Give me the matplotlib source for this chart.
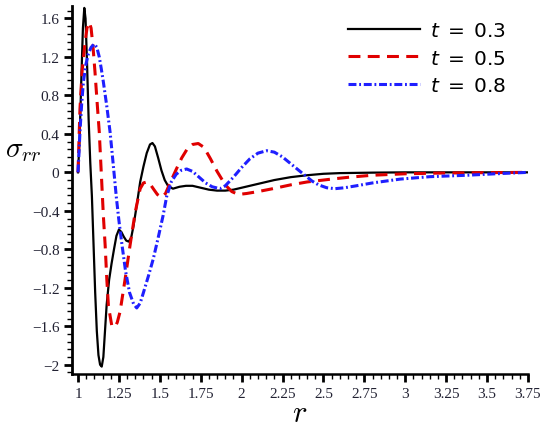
import numpy as np
import matplotlib
matplotlib.use("Agg")
from matplotlib import pyplot as plt
from matplotlib.ticker import MultipleLocator, FuncFormatter

plt.rcParams["font.family"] = ["Liberation Serif", "DejaVu Serif"]
plt.rcParams["mathtext.fontset"] = "dejavusans"

# sigma_rr lungo r per tre istanti t
r_t03 = [1.000, 1.010, 1.020, 1.030, 1.0385, 1.046, 1.055, 1.065, 1.075, 1.085,
         1.095, 1.105, 1.115, 1.125, 1.135, 1.145, 1.155, 1.165, 1.175, 1.19,
         1.205, 1.22, 1.235, 1.25, 1.265, 1.28, 1.295, 1.31, 1.325, 1.34,
         1.36, 1.38, 1.40, 1.42, 1.44, 1.455, 1.47, 1.49, 1.51, 1.53,
         1.55, 1.58, 1.62, 1.66, 1.70, 1.75, 1.80, 1.85, 1.90, 1.95,
         2.00, 2.10, 2.20, 2.30, 2.40, 2.50, 2.60, 2.80, 3.00, 3.75]
s_t03 = [0.00, 0.35, 0.95, 1.50, 1.71, 1.60, 1.15, 0.55, 0.10, -0.25,
         -0.75, -1.25, -1.65, -1.90, -2.00, -2.02, -1.92, -1.65, -1.38, -1.12,
         -0.95, -0.80, -0.66, -0.595, -0.62, -0.67, -0.71, -0.72, -0.68, -0.55,
         -0.33, -0.10, 0.06, 0.20, 0.29, 0.305, 0.27, 0.15, 0.02, -0.08,
         -0.14, -0.17, -0.15, -0.14, -0.14, -0.16, -0.18, -0.19, -0.19, -0.18,
         -0.16, -0.12, -0.08, -0.05, -0.03, -0.015, -0.008, -0.003, 0.0, 0.0]

r_t05 = [1.000, 1.012, 1.025, 1.043, 1.055, 1.069, 1.08, 1.092, 1.104, 1.118,
         1.13, 1.145, 1.155, 1.166, 1.176, 1.186, 1.206, 1.226, 1.24, 1.257,
         1.288, 1.318, 1.349, 1.38, 1.40, 1.42, 1.44, 1.46, 1.485, 1.51,
         1.535, 1.56, 1.60, 1.634, 1.67, 1.70, 1.735, 1.77, 1.81, 1.85,
         1.90, 1.94, 1.98, 2.03, 2.10, 2.19, 2.30, 2.40, 2.55, 2.66,
         2.80, 3.00, 3.20, 3.50, 3.75]
s_t05 = [0.00, 0.66, 1.05, 1.35, 1.50, 1.56, 1.50, 1.30, 1.04, 0.70,
         0.42, -0.10, -0.45, -0.76, -1.11, -1.39, -1.59, -1.61, -1.56, -1.45,
         -1.11, -0.76, -0.42, -0.17, -0.11, -0.10, -0.12, -0.17, -0.23, -0.26,
         -0.22, -0.12, 0.03, 0.15, 0.25, 0.29, 0.30, 0.26, 0.14, 0.01,
         -0.13, -0.20, -0.23, -0.22, -0.20, -0.17, -0.13, -0.10, -0.07, -0.05,
         -0.03, -0.015, -0.008, -0.003, 0.0]

r_t08 = [1.000, 1.006, 1.012, 1.022, 1.033, 1.048, 1.063, 1.08, 1.10, 1.115,
         1.13, 1.142, 1.155, 1.175, 1.196, 1.216, 1.235, 1.25, 1.267, 1.29,
         1.315, 1.34, 1.359, 1.38, 1.40, 1.43, 1.46, 1.49, 1.52, 1.542,
         1.57, 1.60, 1.63, 1.664, 1.70, 1.74, 1.78, 1.82, 1.868, 1.90,
         1.95, 2.00, 2.05, 2.10, 2.153, 2.20, 2.25, 2.30, 2.35, 2.39,
         2.43, 2.47, 2.52, 2.57, 2.63, 2.70, 2.80, 2.97, 3.15, 3.38,
         3.55, 3.75]
s_t08 = [0.00, 0.20, 0.42, 0.70, 0.94, 1.12, 1.23, 1.30, 1.335, 1.30,
         1.20, 1.08, 0.94, 0.70, 0.42, 0.07, -0.27, -0.50, -0.73, -1.02,
         -1.25, -1.37, -1.41, -1.36, -1.25, -1.08, -0.90, -0.68, -0.45, -0.25,
         -0.10, -0.02, 0.02, 0.035, 0.01, -0.05, -0.11, -0.15, -0.17, -0.14,
         -0.05, 0.05, 0.14, 0.20, 0.225, 0.21, 0.16, 0.09, 0.02, -0.035,
         -0.09, -0.13, -0.16, -0.17, -0.16, -0.14, -0.11, -0.07, -0.045, -0.03,
         -0.015, 0.0]

labels = ["$t\\;=\\;0.3$", "$t\\;=\\;0.5$", "$t\\;=\\;0.8$"]

fig = plt.figure(figsize=(5.5, 4.31), dpi=100)
ax = fig.add_axes([0.1309, 0.1299, 0.829, 0.8539])

ax.plot(r_t03, s_t03, "-", color="black", lw=1.6, label=labels[0])
ax.plot(r_t05, s_t05, "--", color="#e00000", lw=2.2, dashes=(3.9, 2.4), label=labels[1])
ax.plot(r_t08, s_t08, "-.", color="#1f1fff", lw=2.2, dashes=(2.6, 0.9, 0.6, 0.9), label=labels[2])

ax.set_xlim(0.9633, 3.75)
ax.set_ylim(-2.097, 1.73)

ax.xaxis.set_major_locator(MultipleLocator(0.25))
ax.xaxis.set_minor_locator(MultipleLocator(0.05))
ax.yaxis.set_major_locator(MultipleLocator(0.4))
ax.yaxis.set_minor_locator(MultipleLocator(0.08))

fmt = FuncFormatter(lambda v, p: ("%g" % round(v, 4)).replace("-", "\u2212"))
ax.xaxis.set_major_formatter(fmt)
ax.yaxis.set_major_formatter(fmt)

for s in ["top", "right"]:
    ax.spines[s].set_visible(False)
ax.spines["left"].set_linewidth(2.0)
ax.spines["bottom"].set_linewidth(1.8)

ax.tick_params(which="major", direction="out", length=6, width=2.0,
               labelsize=11, labelcolor="#222233", pad=3)
ax.tick_params(which="minor", direction="out", length=3.5, width=1.0)

ax.set_xlabel("$r$", fontsize=22, math_fontfamily="cm", va="center")
ax.xaxis.set_label_coords(0.5, -0.108)
ax.set_ylabel("$\\sigma_{rr}$", fontsize=21, math_fontfamily="cm", rotation=0,
              va="center", ha="center")
ax.yaxis.set_label_coords(-0.106, 0.61)

ax.legend(loc="upper left", bbox_to_anchor=(0.565, 1.005), frameon=False,
          fontsize=14.5, handlelength=3.6, handletextpad=0.5, labelspacing=0.4)

fig.savefig("out.png", dpi=100)
